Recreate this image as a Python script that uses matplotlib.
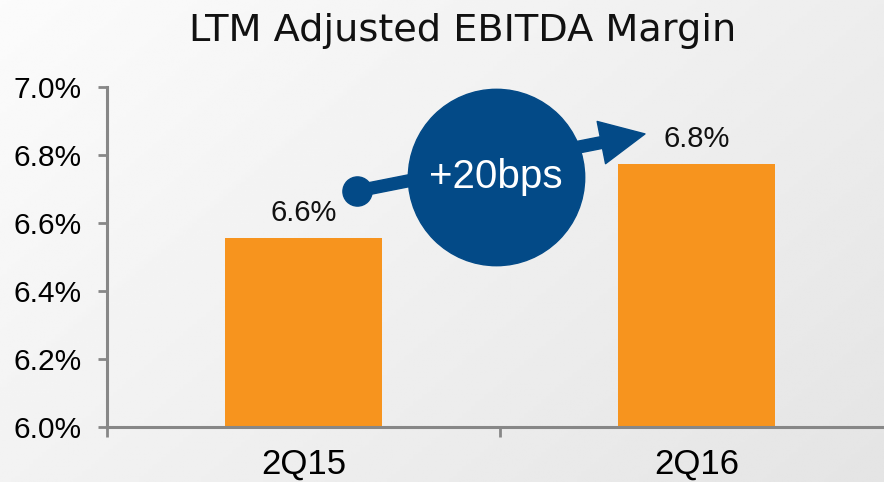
import numpy as np
import matplotlib.pyplot as plt
from matplotlib.patches import FancyArrowPatch

# data
periods = ['2Q15', '2Q16']
margins = [6.556, 6.774]          # LTM adjusted EBITDA margin, %
label_text = ['6.6%', '6.8%']
change_text = '+20bps'
y_ticks = [6.0, 6.2, 6.4, 6.6, 6.8, 7.0]

ORANGE = '#F7941E'
BLUE = '#034A87'
GRAY = '#878787'

fig = plt.figure(figsize=(8.84, 4.82), dpi=100)

# soft diagonal gradient background
bg = fig.add_axes([0, 0, 1, 1], zorder=-10)
gx, gy = np.meshgrid(np.linspace(0, 1, 200), np.linspace(0, 1, 200))
shade = 0.985 - 0.055 * gx - 0.035 * gy
bg.imshow(shade, cmap='gray', vmin=0, vmax=1, aspect='auto', extent=[0, 1, 1, 0])
bg.set_xlim(0, 1)
bg.set_ylim(1, 0)
bg.axis('off')

ax = fig.add_axes([0.1210, 0.1141, 0.8891, 0.7054])
ax.set_facecolor('none')

x = np.arange(len(periods))
ax.bar(x, margins, width=0.40, color=ORANGE, zorder=2)

ax.set_xlim(-0.5, 1.5)
ax.set_ylim(6.0, 7.0)
ax.set_yticks(y_ticks)
ax.set_yticklabels([f'{v:.1f}%' for v in y_ticks], family='Liberation Sans', fontsize=21.5)
ax.set_xticks(x)
ax.set_xticklabels(periods, family='Liberation Sans', fontsize=25)
ax.set_xticks([-0.5, 0.5, 1.5], minor=True)
ax.tick_params(axis='x', which='major', length=0, pad=15)
ax.tick_params(axis='x', which='minor', length=7, width=2, color=GRAY, direction='out')
ax.tick_params(axis='y', length=6.5, width=2, color=GRAY, pad=12)

for s in ['top', 'right']:
    ax.spines[s].set_visible(False)
for s in ['left', 'bottom']:
    ax.spines[s].set_color(GRAY)
    ax.spines[s].set_linewidth(2.2)

for xi, v, t in zip(x, margins, label_text):
    ax.annotate(t, (xi, v), xytext=(0, 8), textcoords='offset points',
                ha='center', va='bottom', fontsize=21, family='Liberation Sans', color='#111111')

# change callout: arrow from above first bar towards second bar, with a circle badge
start = (x[0] + 0.136, margins[0] + 0.138)
end = (x[1] - 0.131, margins[1] + 0.088)
arrow = FancyArrowPatch(start, end, arrowstyle='simple,head_length=3.2,head_width=3.1,tail_width=0.85',
                        mutation_scale=10, color=BLUE, shrinkA=0, shrinkB=0, zorder=5)
ax.add_patch(arrow)
ax.plot(*start, 'o', markersize=21, color=BLUE, zorder=6)
mid = (x[0] + 0.49, margins[0] + 0.179)
ax.plot(*mid, 'o', markersize=127, color=BLUE, zorder=7, clip_on=False)
ax.text(*mid, change_text, ha='center', va='center', fontsize=29,
        family='Liberation Sans', color='white', zorder=8)

fig.text(0.523, 0.936, 'LTM Adjusted EBITDA Margin', ha='center', va='center',
         fontsize=27.5, color='#111111')

fig.savefig('out.png', dpi=100)
